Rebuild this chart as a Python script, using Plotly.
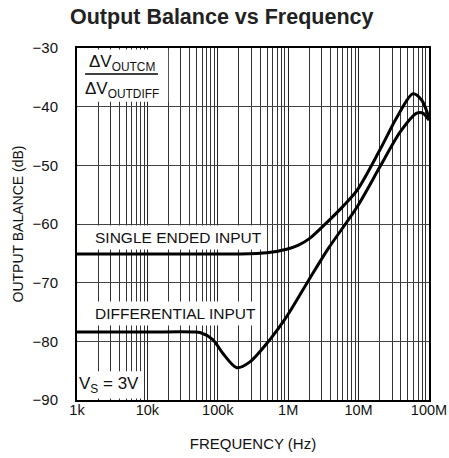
import plotly.graph_objects as go

# ---- data ----
se_freq = [1e3, 1e4, 1e5, 2e5, 5e5, 9.5e5, 1.4e6, 2.0e6, 3.5e6, 6e6, 9.6e6, 2.0e7, 3.5e7, 5.9e7, 7.9e7, 1e8]
se_db   = [-65.1, -65.1, -65.1, -65.1, -64.9, -64.3, -63.6, -62.5, -59.8, -57.0, -54.2, -47.4, -41.8, -37.8, -38.9, -41.9]

diff_freq = [1e3, 1e4, 4.5e4, 5.6e4, 8.5e4, 1.17e5, 1.86e5, 2.86e5, 5.5e5, 9.5e5, 2.04e6, 3.7e6, 9.5e6, 2.0e7, 3.9e7, 6.7e7, 8.2e7, 1e8]
diff_db   = [-78.4, -78.4, -78.4, -78.5, -79.7, -82.0, -84.5, -83.5, -79.7, -75.8, -69.2, -64.2, -57.1, -50.3, -44.3, -41.1, -41.1, -42.3]

x_major = [1e3, 1e4, 1e5, 1e6, 1e7, 1e8]
x_labels = ["1k", "10k", "100k", "1M", "10M", "100M"]
x_minor = [m * d for d in [1e3, 1e4, 1e5, 1e6, 1e7] for m in range(2, 10)]
y_ticks = [-90, -80, -70, -60, -50, -40, -30]
y_labels = ["\u221290", "\u221280", "\u221270", "\u221260", "\u221250", "\u221240", "\u221230"]

FONT = "Liberation Sans, Arial, Helvetica, sans-serif"

fig = go.Figure()
fig.add_trace(go.Scatter(x=se_freq, y=se_db, mode="lines",
                         line=dict(color="black", width=3, shape="spline", smoothing=0.8),
                         showlegend=False, hoverinfo="skip"))
fig.add_trace(go.Scatter(x=diff_freq, y=diff_db, mode="lines",
                         line=dict(color="black", width=3, shape="spline", smoothing=0.8),
                         showlegend=False, hoverinfo="skip"))

fig.update_layout(
    width=449, height=458,
    margin=dict(l=77, r=20, t=48, b=58),
    paper_bgcolor="white", plot_bgcolor="white",
    font=dict(family=FONT, size=15, color="#111"),
    xaxis=dict(type="log", range=[3, 8], tickvals=x_major, ticktext=x_labels,
               showgrid=True, gridcolor="#222", gridwidth=1,
               minor=dict(tickvals=x_minor, showgrid=True, gridcolor="#333", gridwidth=1, ticks=""),
               showline=True, linecolor="black", linewidth=2, mirror=True,
               ticks="", zeroline=False, ticklabelstandoff=-4, automargin=False,
               title=dict(text="FREQUENCY (Hz)", font=dict(family=FONT, size=15), standoff=21),
               tickfont=dict(family=FONT, size=14.5)),
    yaxis=dict(range=[-90, -30], tickvals=y_ticks, ticktext=y_labels,
               showgrid=True, gridcolor="#444", gridwidth=1,
               showline=True, linecolor="black", linewidth=2, mirror=True,
               ticks="", zeroline=False, ticklabelstandoff=14, automargin=False,
               title=dict(text="OUTPUT BALANCE (dB)", font=dict(family=FONT, size=14), standoff=6),
               tickfont=dict(family=FONT, size=15)),
)

# white boxes hiding gridlines
fig.add_shape(type="rect", xref="paper", yref="paper", x0=0.004, x1=0.259, y0=0.847, y1=0.996,
              fillcolor="white", line=dict(width=0), layer="above")
fig.add_shape(type="line", xref="paper", yref="paper", x0=0.023, x1=0.230, y0=0.926, y1=0.926,
              line=dict(color="black", width=1.5), layer="above")
fig.add_shape(type="rect", xref="paper", yref="paper", x0=0.004, x1=0.185, y0=0.004, y1=0.082,
              fillcolor="white", line=dict(width=0), layer="above")

fig.add_annotation(xref="paper", yref="paper", x=0.128, y=0.957, xanchor="center", yanchor="middle",
                   text="\u0394V<sub>OUTCM</sub>", showarrow=False, font=dict(family=FONT, size=17))
fig.add_annotation(xref="paper", yref="paper", x=0.128, y=0.881, xanchor="center", yanchor="middle",
                   text="\u0394V<sub>OUTDIFF</sub>", showarrow=False, font=dict(family=FONT, size=17))
fig.add_annotation(xref="paper", yref="paper", x=0.092, y=0.043, xanchor="center", yanchor="middle",
                   text="V<sub>S</sub> = 3V", showarrow=False, font=dict(family=FONT, size=17))

fig.add_annotation(xref="paper", yref="paper", x=0.288, y=0.463, xanchor="center", yanchor="middle",
                   text="SINGLE ENDED INPUT", showarrow=False, bgcolor="white", borderpad=3,
                   font=dict(family=FONT, size=15.5))
fig.add_annotation(xref="paper", yref="paper", x=0.279, y=0.247, xanchor="center", yanchor="middle",
                   text="DIFFERENTIAL INPUT", showarrow=False, bgcolor="white", borderpad=3,
                   font=dict(family=FONT, size=15.5))

fig.add_annotation(xref="paper", yref="paper", x=0.412, y=1.088, xanchor="center", yanchor="middle",
                   text="<b>Output Balance vs Frequency</b>",
                   showarrow=False, font=dict(family=FONT, size=21.5, color="#222"))

fig.write_html("out.html", config={"displayModeBar": False},
               post_script="document.body.style.margin='0';document.body.style.overflow='hidden';")
